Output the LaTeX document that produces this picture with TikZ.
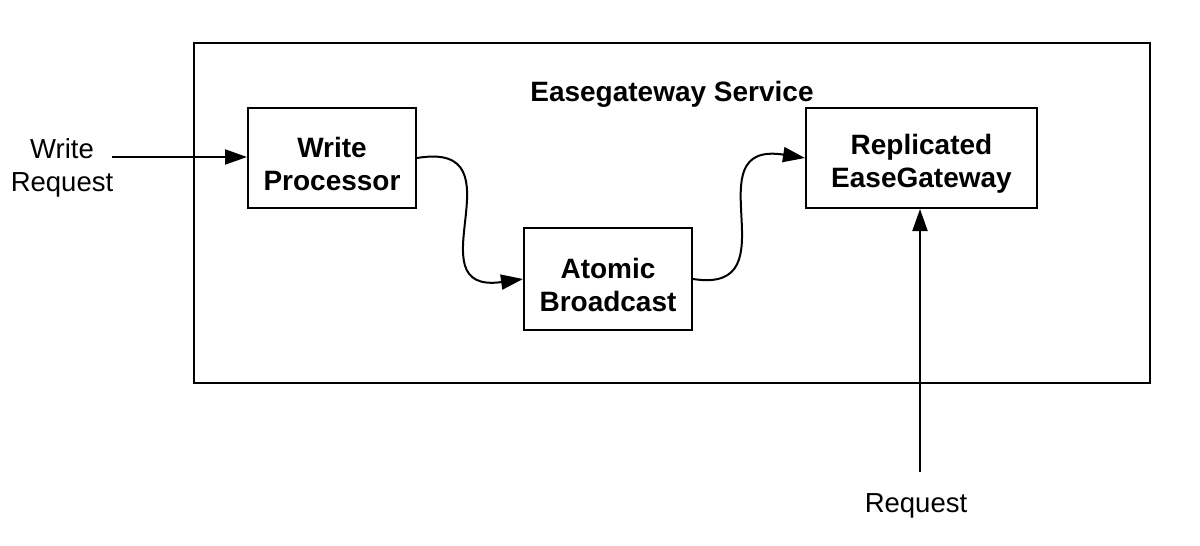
\documentclass[tikz,border=0pt]{standalone}
\usepackage{fontspec}
\setmainfont{Liberation Sans}
\usetikzlibrary{arrows.meta}
\begin{document}
\begin{tikzpicture}[x=1pt,y=-1pt,
  box/.style={draw,line width=2pt,minimum width=#1,minimum height=100pt,inner sep=0pt},
  boxtext/.style={align=center,inner sep=0pt,yshift=-6pt,font=\fontsize{28}{33}\selectfont\bfseries},
  lbl/.style={align=center,font=\fontsize{27.5}{33}\selectfont},
  conn/.style={line width=2pt,-{Triangle[length=22pt,width=15pt]}}]
\useasboundingbox (0,0) rectangle (1200,546);
\node[draw,line width=2pt,minimum width=956pt,minimum height=340pt,inner sep=0pt] (svc) at (672,213) {};
\node[font=\fontsize{28}{33}\selectfont\bfseries] (title) at (672,94) {Easegateway Service};
\node[box=168pt,label={[boxtext]center:Write\\Processor}] (wp) at (332,158) {};
\node[box=168pt,minimum height=102pt,label={[boxtext]center:Atomic\\Broadcast}] (ab) at (608,279) {};
\node[box=231pt,label={[boxtext]center:Replicated\\EaseGateway}] (rg) at (921.5,158) {};
\node[lbl] (wr) at (62,168) {Write\\Request};
\node[lbl] (req) at (916,506) {Request};
\coordinate (wrs) at (112,157);
\coordinate (rqs) at (920,472);
\draw[conn] (wrs) -- (wp.west |- wrs);
\draw[conn] (rqs) -- (rqs |- rg.south);
\draw[conn] (wp.east) .. controls (525,140) and (410,295) .. (ab.west);
\draw[conn] (ab.east) .. controls (795,295) and (690,140) .. (rg.west);
\end{tikzpicture}
\end{document}
